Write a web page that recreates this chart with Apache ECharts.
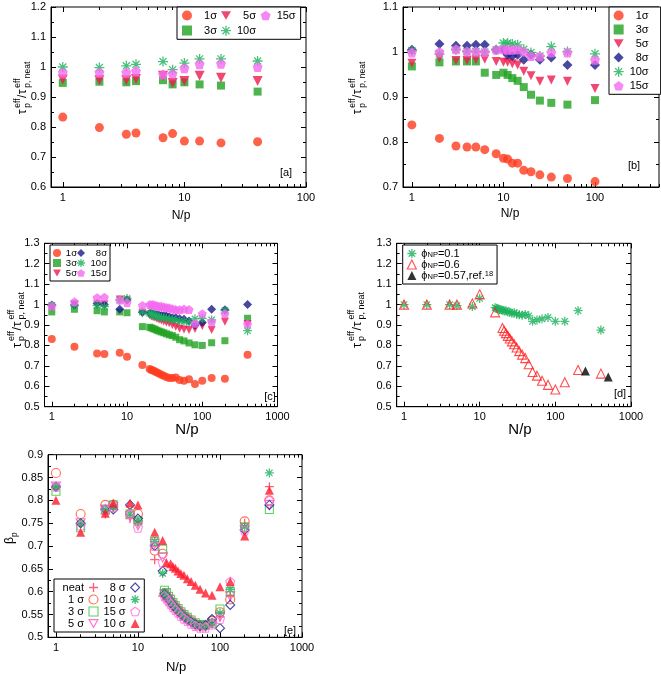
<!DOCTYPE html>
<html><head><meta charset="utf-8">
<script src="https://cdn.jsdelivr.net/npm/echarts@6/dist/echarts.min.js"></script>
<style>html,body{margin:0;padding:0;background:#fff}#c{width:661px;height:674px}</style>
</head><body><div id="c"></div>
<script>
// ---------- data ----------
const MAJOR_X = [1, 10, 100, 1000];
const MINOR_X = [2,3,4,5,6,7,8,9,20,30,40,50,60,70,80,90,200,300,400,500,600,700,800,900];

// panel a
const A_X = [1, 2, 3.33, 4, 6.67, 8, 10, 13.33, 20, 40];
const A_1s = [0.833, 0.798, 0.776, 0.780, 0.764, 0.778, 0.753, 0.753, 0.747, 0.751];
const A_3s = [0.947, 0.951, 0.949, 0.953, 0.956, 0.942, 0.949, 0.942, 0.938, 0.918];
const A_5s = [0.958, 0.956, 0.956, 0.960, 0.971, 0.947, 0.953, 0.971, 0.964, 0.953];
const A_10s = [1.000, 0.998, 1.004, 1.009, 1.018, 0.991, 1.013, 1.027, 1.027, 1.020];
const A_15s = [0.982, 0.982, 0.982, 0.987, 0.975, 0.978, 0.996, 1.009, 1.011, 1.000];

// panel b
const B_X = [1, 2, 3.03, 4, 5, 6.25, 8.33, 10, 11.11, 12.5, 14.29, 16.67, 20, 25, 33.33, 50, 100];
const B_1s = [0.838,0.808,0.791,0.789,0.789,0.783,0.774,0.764,0.762,0.753,0.753,0.737,0.734,0.727,0.722,0.719,0.712];
const B_3s = [0.968,0.977,0.979,0.979,0.979,0.954,0.949,0.954,0.949,0.942,0.936,0.922,0.905,0.892,0.887,0.883,0.893];
const B_5s = [0.975,0.986,0.981,0.981,0.983,0.984,0.979,0.977,0.977,0.974,0.971,0.957,0.947,0.935,0.938,0.935,0.919];
const B_8s = [1.005,1.018,1.014,1.014,1.016,1.016,1.005,1.005,0.994,0.991,0.994,0.983,0.994,0.983,0.988,0.971,0.971];
const B_10s = [1.003,0.996,1.005,1.001,1.001,1.000,1.005,1.020,1.020,1.018,1.016,1.006,0.999,0.991,1.012,1.001,0.996];
const B_15s = [0.999,1.000,1.006,1.001,1.001,1.000,1.005,1.006,1.005,1.005,1.006,1.001,0.991,0.990,0.999,0.999,0.983];

// panel c
const C_X = [1,2,4,5,8,10,16,20,21.05,22.22,23.53,25,26.67,28.57,30.77,33.33,36.36,40,44.44,50,57.14,66.67,80,100,133.3,200,400];
const C_1s = [0.831,0.794,0.761,0.758,0.764,0.745,0.704,0.684,0.680,0.677,0.672,0.668,0.663,0.656,0.652,0.646,0.641,0.640,0.643,0.631,0.627,0.634,0.611,0.627,0.640,0.637,0.754];
const C_3s = [0.964,0.977,0.970,0.964,0.964,0.960,0.892,0.889,0.886,0.882,0.879,0.874,0.870,0.866,0.862,0.857,0.852,0.848,0.840,0.828,0.822,0.812,0.803,0.800,0.813,0.823,0.933];
const C_5s = [0.985,1.000,1.000,1.000,1.025,1.020,0.958,0.948,0.942,0.938,0.935,0.930,0.926,0.922,0.917,0.912,0.908,0.900,0.892,0.882,0.878,0.875,0.880,0.895,0.875,0.916,0.905];
const C_8s = [0.998,0.998,1.005,1.000,0.977,1.022,0.962,0.958,0.956,0.955,0.952,0.950,0.948,0.946,0.945,0.944,0.940,0.936,0.935,0.930,0.928,0.920,0.900,0.912,0.977,0.975,1.000];
const C_10s = [0.996,0.995,0.995,0.990,1.022,1.030,0.963,0.957,0.953,0.950,0.946,0.942,0.940,0.937,0.935,0.932,0.930,0.927,0.925,0.920,0.918,0.915,0.930,0.932,0.925,0.970,0.872];
const C_15s = [0.993,1.014,1.034,1.036,1.022,1.009,0.996,1.000,0.998,1.000,0.996,0.994,0.990,0.992,0.988,0.986,0.984,0.980,0.976,0.975,0.978,0.976,0.908,0.955,0.915,0.955,0.905];

// panel d
const D_X1 = [1,2,4,5,8,10,16,16.67,17.39,18.18,19.05,20,21.05,22.22,23.53,25,26.67,28.57,30.77,33.33,36.36,40,44.44,50,57.14,66.67,80,100,133.3,200,400];
const D_01 = [1.000,1.000,1.000,0.995,0.990,1.030,0.985,0.982,0.978,0.975,0.976,0.972,0.968,0.970,0.965,0.962,0.958,0.960,0.953,0.950,0.948,0.952,0.945,0.918,0.925,0.930,0.937,0.918,0.918,0.970,0.875];
const D_X2 = [1,2,4,5,8,10,16,20,21.05,22.22,23.53,25,26.67,28.57,30.77,33.33,36.36,40,44.44,50,57.14,66.67,80,100,133.3,200,400];
const D_06 = [1.000,1.000,1.000,1.000,1.005,1.050,0.962,0.885,0.872,0.860,0.847,0.834,0.820,0.806,0.790,0.772,0.755,0.738,0.708,0.670,0.652,0.627,0.607,0.584,0.620,0.680,0.662];
const D_X3 = [250, 500];
const D_057 = [0.675, 0.645];

// panel e
const E_X = [1,2,4,5,8,10,16,20,21.05,22.22,23.53,25,26.67,28.57,30.77,33.33,36.36,40,44.44,50,57.14,66.67,80,100,133.3,200,400];
const E_neat = [0.830,0.750,0.770,0.785,0.760,0.750,0.670,0.590,0.592,0.588,0.582,0.576,0.569,0.562,0.556,0.549,0.543,0.537,0.532,0.527,0.524,0.525,0.533,0.545,0.590,0.750,0.830];
const E_1s = [0.860,0.770,0.790,0.790,0.770,0.770,0.690,0.683,0.596,0.590,0.585,0.578,0.572,0.566,0.560,0.553,0.547,0.541,0.535,0.529,0.526,0.526,0.536,0.555,0.583,0.754,0.800];
const E_3s = [0.820,0.740,0.780,0.790,0.770,0.755,0.710,0.693,0.603,0.598,0.590,0.583,0.576,0.569,0.563,0.556,0.550,0.544,0.538,0.532,0.528,0.527,0.531,0.562,0.600,0.741,0.780];
const E_5s = [0.830,0.750,0.780,0.785,0.765,0.745,0.705,0.675,0.594,0.588,0.582,0.575,0.569,0.562,0.556,0.550,0.543,0.538,0.532,0.526,0.522,0.522,0.529,0.545,0.590,0.735,0.790];
const E_8s = [0.830,0.750,0.780,0.780,0.790,0.760,0.700,0.645,0.595,0.590,0.584,0.578,0.571,0.565,0.558,0.551,0.545,0.539,0.534,0.529,0.525,0.527,0.540,0.520,0.571,0.735,0.790];
const E_10s = [0.830,0.750,0.780,0.785,0.770,0.755,0.710,0.640,0.598,0.592,0.586,0.580,0.573,0.566,0.560,0.553,0.547,0.541,0.535,0.530,0.526,0.525,0.532,0.553,0.605,0.742,0.860];
const E_15s = [0.830,0.745,0.780,0.785,0.770,0.740,0.700,0.664,0.590,0.585,0.579,0.573,0.566,0.560,0.554,0.547,0.541,0.536,0.530,0.525,0.521,0.521,0.528,0.540,0.622,0.734,0.800];
const E_X2 = [1,2,4,5,8,10,16,20,22.22,25,26.67,28.57,30.77,33.33,36.36,40,44.44,50,57.14,66.67,80,100,133.3,200,400];
const E_10f = [0.800,0.730,0.772,0.794,0.794,0.790,0.730,0.712,0.664,0.661,0.655,0.651,0.645,0.640,0.636,0.628,0.622,0.614,0.605,0.597,0.592,0.611,0.622,0.722,0.822];

// ---------- layout / style ----------
const FF = "'Liberation Sans', Arial, sans-serif";
const GRID_POS = [
  {left: 51, top: 7, width: 255, height: 180},
  {left: 403, top: 7, width: 256, height: 180},
  {left: 44.5, top: 243.3, width: 233, height: 163.4},
  {left: 396.7, top: 243.3, width: 234.3, height: 163.4},
  {left: 48, top: 454.7, width: 254, height: 182.6}
];
const XMAX = [100, 500, 1000, 1000, 1000];
const YR = [[0.6, 1.2, 0.1], [0.7, 1.1, 0.1], [0.5, 1.3, 0.1], [0.5, 1.3, 0.1], [0.5, 0.9, 0.05]];

const RED = '#ff3b1e', GREEN = '#22a222', CRIMSON = '#ec1a4e', NAVY = '#1a1a8c', TEAL = '#1bb15b', PINK = '#f46af0';
const E_RED = '#ff3355', E_OR = '#ff4b2b', E_GREEN = '#33c833', E_MAG = '#ff4cc4', E_PINK = '#ff6ee0', E_FRED = '#ff1a2a';

const S = {
  circle: 'circle', square: 'rect', diamond: 'diamond', up: 'triangle',
  down: 'path://M0,0L10,0L5,8.66Z',
  pent: 'path://M5,0L9.76,3.45L7.94,9.05L2.06,9.05L0.24,3.45Z',
  star: 'path://M0,5L10,5M5,0L5,10M1.46,1.46L8.54,8.54M8.54,1.46L1.46,8.54',
  plus: 'path://M0,5L10,5M5,0L5,10'
};
function sty(kind, color, hollow) {
  if (kind === 'star' || kind === 'plus') return {color: color, borderColor: color, borderWidth: 1.3};
  if (hollow) return {color: 'rgba(255,255,255,0)', borderColor: color, borderWidth: 1.1};
  return {color: color, borderWidth: 0};
}

const grids = [], xAxes = [], yAxes = [], series = [];
GRID_POS.forEach((g, gi) => {
  grids.push(Object.assign({show: true, borderColor: '#000', borderWidth: 1, containLabel: false, outerBoundsMode: 'none', backgroundColor: 'transparent'}, g));
  const xmax = XMAX[gi];
  const maj = MAJOR_X.filter(v => v <= xmax);
  const mino = MINOR_X.filter(v => v <= xmax);
  const base = {type: 'log', logBase: 10, min: 0.8, max: xmax, gridIndex: gi, splitLine: {show: false}, axisLine: {show: false, onZero: false}};
  const tickStyle = {lineStyle: {color: '#000', width: 1}};
  xAxes.push(Object.assign({}, base, {position: 'bottom', axisLine: {show: true, onZero: false, lineStyle: {color: '#000'}},
    axisTick: Object.assign({show: true, inside: true, length: 5, customValues: maj}, tickStyle),
    axisLabel: {show: true, customValues: maj, margin: 5, color: '#000', fontSize: 11, fontFamily: FF, formatter: v => String(Math.round(v))}}));
  xAxes.push(Object.assign({}, base, {position: 'bottom', offset: 0,
    axisTick: Object.assign({show: true, inside: true, length: 3, customValues: mino}, tickStyle), axisLabel: {show: false}}));
  xAxes.push(Object.assign({}, base, {position: 'top', offset: 0,
    axisTick: Object.assign({show: true, inside: true, length: 5, customValues: maj}, tickStyle), axisLabel: {show: false}}));
  xAxes.push(Object.assign({}, base, {position: 'top', offset: 0,
    axisTick: Object.assign({show: true, inside: true, length: 3, customValues: mino}, tickStyle), axisLabel: {show: false}}));
  const [ymin, ymax, yint] = YR[gi];
  const ybase = {type: 'value', min: ymin, max: ymax, interval: yint, gridIndex: gi, splitLine: {show: false},
    axisTick: Object.assign({show: true, inside: true, length: 5}, tickStyle),
    minorTick: {show: true, splitNumber: 2, length: 3, lineStyle: {color: '#000'}}};
  yAxes.push(Object.assign({}, ybase, {position: 'left', axisLine: {show: true, onZero: false, lineStyle: {color: '#000'}},
    axisLabel: {show: true, margin: 5, color: '#000', fontSize: 11, fontFamily: FF}}));
  yAxes.push(Object.assign({}, ybase, {position: 'right', axisLine: {show: false, onZero: false}, axisLabel: {show: false}}));
});

function add(gi, name, xs, ys, kind, color, size, hollow) {
  series.push({type: 'scatter', name: name, xAxisIndex: gi * 4, yAxisIndex: gi * 2,
    data: xs.map((x, i) => [x, ys[i]]), symbol: S[kind], symbolSize: size,
    itemStyle: sty(kind, color, hollow), emphasis: {disabled: true}, z: 3});
  return {name: name, icon: S[kind], itemStyle: sty(kind, color, hollow)};
}

// panel a
const legA = [
  add(0, '1σ', A_X, A_1s, 'circle', RED, 9),
  add(0, '3σ', A_X, A_3s, 'square', GREEN, 8),
  add(0, '5σ', A_X, A_5s, 'down', CRIMSON, 10),
  add(0, '10σ', A_X, A_10s, 'star', TEAL, 10),
  add(0, '15σ', A_X, A_15s, 'pent', PINK, 10)
];
// panel b
const legB = [
  add(1, '1σ', B_X, B_1s, 'circle', RED, 9),
  add(1, '3σ', B_X, B_3s, 'square', GREEN, 8),
  add(1, '5σ', B_X, B_5s, 'down', CRIMSON, 9),
  add(1, '8σ', B_X, B_8s, 'diamond', NAVY, 10),
  add(1, '10σ', B_X, B_10s, 'star', TEAL, 10),
  add(1, '15σ', B_X, B_15s, 'pent', PINK, 10)
];
// panel c
const legC = [
  add(2, '1σ', C_X, C_1s, 'circle', RED, 8),
  add(2, '3σ', C_X, C_3s, 'square', GREEN, 7),
  add(2, '5σ', C_X, C_5s, 'down', CRIMSON, 8),
  add(2, '8σ', C_X, C_8s, 'diamond', NAVY, 9),
  add(2, '10σ', C_X, C_10s, 'star', TEAL, 9),
  add(2, '15σ', C_X, C_15s, 'pent', PINK, 9)
];
// panel d
const legD = [
  add(3, 'p01', D_X1, D_01, 'star', TEAL, 9),
  add(3, 'p06', D_X2, D_06, 'up', '#ff2020', 9, true),
  add(3, 'p057', D_X3, D_057, 'up', '#000000', 9)
];
// panel e
const legE = [
  add(4, 'neat', E_X, E_neat, 'plus', E_RED, 9),
  add(4, '1 σ', E_X, E_1s, 'circle', E_OR, 9, true),
  add(4, '3 σ', E_X, E_3s, 'square', E_GREEN, 8, true),
  add(4, '5 σ', E_X, E_5s, 'down', E_MAG, 9, true),
  add(4, '8 σ', E_X, E_8s, 'diamond', NAVY, 9, true),
  add(4, '10 σ', E_X, E_10s, 'star', TEAL, 9),
  add(4, '15 σ', E_X, E_15s, 'pent', E_PINK, 9, true),
  add(4, '10 σ ', E_X2, E_10f, 'up', E_FRED, 9)
];

const legBase = {orient: 'vertical', selectedMode: false, borderColor: '#000', borderWidth: 1, backgroundColor: '#fff'};
const COL2C = {'8σ': 1, '10σ': 1, '15σ': 1};
const D_TXT = {p01: '{t|ϕ}{s|NP}{t|=0.1}', p06: '{t|ϕ}{s|NP}{t|=0.6}', p057: '{t|ϕ}{s|NP}{t|=0.57,ref.}{u|18}'};
const legends = [
  Object.assign({}, legBase, {left: 177, top: 7, height: 34, itemWidth: 10, itemHeight: 10, itemGap: 4, padding: [3, 5],
    data: legA, formatter: n => '{r|' + n + '}',
    textStyle: {fontSize: 11, lineHeight: 11, fontFamily: FF, color: '#000', rich: {r: {width: 20, align: 'right', fontSize: 11, fontFamily: FF}}}}),
  Object.assign({}, legBase, {left: 609, top: 7, itemWidth: 10, itemHeight: 10, itemGap: 3, padding: [3, 12, 3, 4],
    data: legB, formatter: n => '{r|' + n + '}',
    textStyle: {fontSize: 11, lineHeight: 11, fontFamily: FF, color: '#000', rich: {r: {width: 20, align: 'right', fontSize: 11, fontFamily: FF}}}}),
  Object.assign({}, legBase, {left: 50, top: 245, height: 38, itemWidth: 8, itemHeight: 8, itemGap: 0, padding: [3, 3],
    data: legC, formatter: n => (COL2C[n] ? '{q|' + n + '}' : '{r|' + n + '}'),
    textStyle: {fontSize: 9.5, lineHeight: 10, fontFamily: FF, color: '#000',
      rich: {r: {width: 11, align: 'right', fontSize: 9.5, fontFamily: FF}, q: {width: 17, align: 'right', fontSize: 9.5, fontFamily: FF}}}}),
  Object.assign({}, legBase, {left: 402.7, top: 245, itemWidth: 9, itemHeight: 9, itemGap: 0, padding: [3, 4],
    data: legD, formatter: n => D_TXT[n],
    textStyle: {fontSize: 11, fontFamily: FF, color: '#000',
      rich: {t: {fontSize: 11, lineHeight: 11, fontFamily: FF}, s: {fontSize: 7.5, lineHeight: 6, verticalAlign: 'bottom', fontFamily: FF},
             u: {fontSize: 7.5, lineHeight: 6, verticalAlign: 'top', fontFamily: FF}}}}),
  Object.assign({}, legBase, {left: 54, top: 579, height: 56, align: 'right', itemWidth: 9, itemHeight: 9, itemGap: 1, padding: [3, 4],
    data: legE, formatter: n => n.trim(),
    textStyle: {fontSize: 11, lineHeight: 10.5, width: 26, align: 'right', fontFamily: FF, color: '#000'}})
];

// ---------- text graphics ----------
function tx(text, x, y, size, extra) {
  return Object.assign({type: 'text', x: x, y: y, silent: true,
    style: {text: text, fontSize: size, fontFamily: FF, fill: '#000', align: 'left', verticalAlign: 'middle'}}, extra || {});
}
function tauLabel(cx, cy, fb, fs) {
  const parts = [];
  let x = 0;
  const sub = fb * 0.36, sup = -fb * 0.42;
  parts.push(tx('τ', x, 0, fb)); x += fb * 0.55;
  parts.push(tx('p', x, sub, fs)); parts.push(tx('eff', x, sup, fs)); x += fs * 1.15;
  parts.push(tx('/', x, 0, fb)); x += fb * 0.3;
  parts.push(tx('τ', x, 0, fb)); x += fb * 0.55;
  parts.push(tx('p, neat', x, sub, fs)); parts.push(tx('eff', x, sup, fs)); x += fs * 3.06;
  const off = -x / 2;
  parts.forEach(p => { p.x += off; });
  return {type: 'group', x: cx, y: cy, rotation: Math.PI / 2, silent: true, children: parts};
}
function betaLabel(cx, cy) {
  return {type: 'group', x: cx, y: cy, rotation: Math.PI / 2, silent: true,
    children: [tx('β', -6, 0, 12), tx('p', 1, 4.5, 8.5)]};
}
function centered(text, x, y, size) {
  return {type: 'text', x: x, y: y, silent: true, style: {text: text, fontSize: size, fontFamily: FF, fill: '#000', align: 'center', verticalAlign: 'middle'}};
}
const graphics = [
  tauLabel(23, 88, 12, 8.5),
  tauLabel(358, 88, 12, 8.5),
  tauLabel(17, 320, 13, 9),
  tauLabel(357, 320, 13, 9),
  betaLabel(10, 538),
  centered('N/p', 181, 216, 12),
  centered('N/p', 510, 214, 12),
  centered('N/p', 187, 430, 15),
  centered('N/p', 520, 430, 15),
  centered('N/p', 176, 667, 13),
  centered('[a]', 286, 173, 11),
  centered('[b]', 634, 166, 11),
  centered('[c]', 270, 397, 11),
  centered('[d]', 620, 394, 11),
  centered('[e]', 290, 631, 11)
];

const chart = echarts.init(document.getElementById('c'), null, {renderer: 'canvas'});
chart.setOption({
  animation: false,
  backgroundColor: '#fff',
  textStyle: {fontFamily: FF},
  grid: grids,
  xAxis: xAxes,
  yAxis: yAxes,
  legend: legends,
  series: series,
  graphic: graphics
});
</script></body></html>
